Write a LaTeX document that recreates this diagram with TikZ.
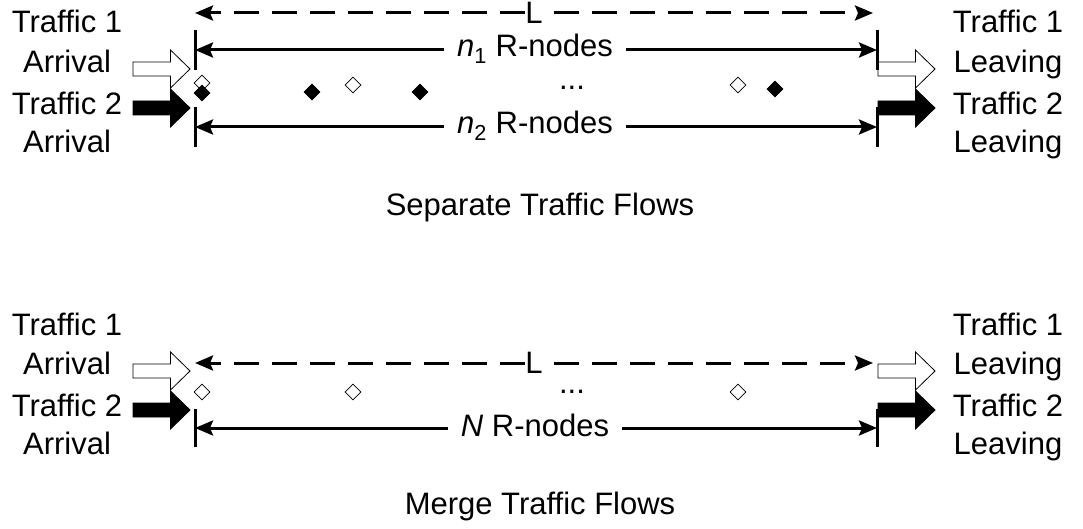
\documentclass[tikz,border=0pt]{standalone}
\usepackage{fontspec}
\setmainfont{Liberation Sans}
\usetikzlibrary{arrows.meta,shapes.geometric}

\tikzset{
  lbl/.style={font=\fontsize{31}{37}\selectfont, inner sep=0pt, anchor=base},
  rlbl/.style={lbl, inner xsep=13pt},
  halfspan/.style={line width=3pt, -{Stealth[length=18pt,width=15pt,inset=3pt]}},
  dashspan/.style={halfspan, dash pattern=on 25pt off 13pt},
  bar/.style={line width=3pt},
  rnodeo/.style={diamond, draw, fill=white, line width=0.8pt, inner sep=0pt, minimum size=16pt},
  rnodef/.style={diamond, draw, fill=black, line width=0.8pt, inner sep=0pt, minimum size=16pt},
  whiteflow/.style={draw=black, fill=white, line width=0.8pt},
  blackflow/.style={draw=black, fill=black, line width=0.8pt},
  flow/.pic={\path[pic actions] (0,-7) -- (37.5,-7) -- (37.5,-19) -- (57,0) -- (37.5,19) -- (37.5,7) -- (0,7) -- cycle;}
}

\begin{document}
\begin{tikzpicture}[x=1pt,y=-1pt]
\useasboundingbox (0,0) rectangle (1083,529);

% ---------------- separate traffic flows ----------------
% side labels
\node[lbl] (sa1) at (67,33)  {Traffic 1};
\node[lbl] (sa2) at (67,73)  {Arrival};
\node[lbl] (sa3) at (67,115) {Traffic 2};
\node[lbl] (sa4) at (67,153) {Arrival};
\node[lbl] (sl1) at (1008,33)  {Traffic 1};
\node[lbl] (sl2) at (1008,73)  {Leaving};
\node[lbl] (sl3) at (1008,115) {Traffic 2};
\node[lbl] (sl4) at (1008,153) {Leaving};

% traffic block arrows
\pic[whiteflow] (sin1)  at (133,69)  {flow};
\pic[blackflow] (sin2)  at (133,108) {flow};
\pic[whiteflow] (sout1) at (878,69)  {flow};
\pic[blackflow] (sout2) at (878,108) {flow};

% overall length L
\coordinate (sLl) at (195,13);
\coordinate (sLr) at (873,13);
\node[lbl] (sL) at (534,24) {L};
\draw[dashspan] (sL.west |- sLl) -- (sLl);
\draw[dashspan] ([xshift=11pt]sL.east |- sLr) -- (sLr);

% n1 span
\coordinate (s1l) at (195,50);
\coordinate (s1r) at (877,50);
\draw[bar] ([yshift=20pt]s1l) -- ([yshift=-20pt]s1l);
\draw[bar] ([yshift=20pt]s1r) -- ([yshift=-20pt]s1r);
\node[rlbl] (sn1) at (535,57) {\itshape n\textsubscript{\upshape 1}\upshape{} R-nodes};
\draw[halfspan] (sn1.west |- s1l) -- (s1l);
\draw[halfspan] (sn1.east |- s1r) -- (s1r);

% n2 span
\coordinate (s2l) at (195,127);
\coordinate (s2r) at (877,127);
\draw[bar] ([yshift=20pt]s2l) -- ([yshift=-20pt]s2l);
\draw[bar] ([yshift=20pt]s2r) -- ([yshift=-20pt]s2r);
\node[rlbl] (sn2) at (535,134) {\itshape n\textsubscript{\upshape 2}\upshape{} R-nodes};
\draw[halfspan] (sn2.west |- s2l) -- (s2l);
\draw[halfspan] (sn2.east |- s2r) -- (s2r);

% R-nodes of both flows
\node[rnodeo] (so1) at (202,83) {};
\node[rnodef] (sf1) at (202,93) {};
\node[rnodef] (sf2) at (312,92) {};
\node[rnodeo] (so2) at (353,85) {};
\node[rnodef] (sf3) at (420,92) {};
\node[lbl]    (sdots) at (572,90) {...};
\node[rnodeo] (so3) at (738,85) {};
\node[rnodef] (sf4) at (775,89) {};

\node[lbl] (scap) at (540,215) {Separate Traffic Flows};

% ---------------- merged traffic flows ----------------
\node[lbl] (ma1) at (67,335) {Traffic 1};
\node[lbl] (ma2) at (67,374) {Arrival};
\node[lbl] (ma3) at (67,416) {Traffic 2};
\node[lbl] (ma4) at (67,454) {Arrival};
\node[lbl] (ml1) at (1008,335) {Traffic 1};
\node[lbl] (ml2) at (1008,374) {Leaving};
\node[lbl] (ml3) at (1008,416) {Traffic 2};
\node[lbl] (ml4) at (1008,454) {Leaving};

\pic[whiteflow] (min1)  at (133,371) {flow};
\pic[blackflow] (min2)  at (133,410) {flow};
\pic[whiteflow] (mout1) at (878,371) {flow};
\pic[blackflow] (mout2) at (878,410) {flow};

% overall length L
\coordinate (mLl) at (195,363);
\coordinate (mLr) at (873,363);
\node[lbl] (mL) at (534,373) {L};
\draw[dashspan] (mL.west |- mLl) -- (mLl);
\draw[dashspan] ([xshift=11pt]mL.east |- mLr) -- (mLr);

% N span
\coordinate (mNl) at (195,428);
\coordinate (mNr) at (877,428);
\draw[bar] ([yshift=19pt]mNl) -- ([yshift=-19pt]mNl);
\draw[bar] ([yshift=19pt]mNr) -- ([yshift=-19pt]mNr);
\node[rlbl] (mN) at (535,436) {\itshape N\upshape{} R-nodes};
\draw[halfspan] (mN.west |- mNl) -- (mNl);
\draw[halfspan] (mN.east |- mNr) -- (mNr);

% shared R-nodes
\node[rnodeo] (mo1) at (202,392) {};
\node[rnodeo] (mo2) at (353,392) {};
\node[lbl]    (mdots) at (572,393) {...};
\node[rnodeo] (mo3) at (738,392) {};

\node[lbl] (mcap) at (540,514) {Merge Traffic Flows};
\end{tikzpicture}
\end{document}
